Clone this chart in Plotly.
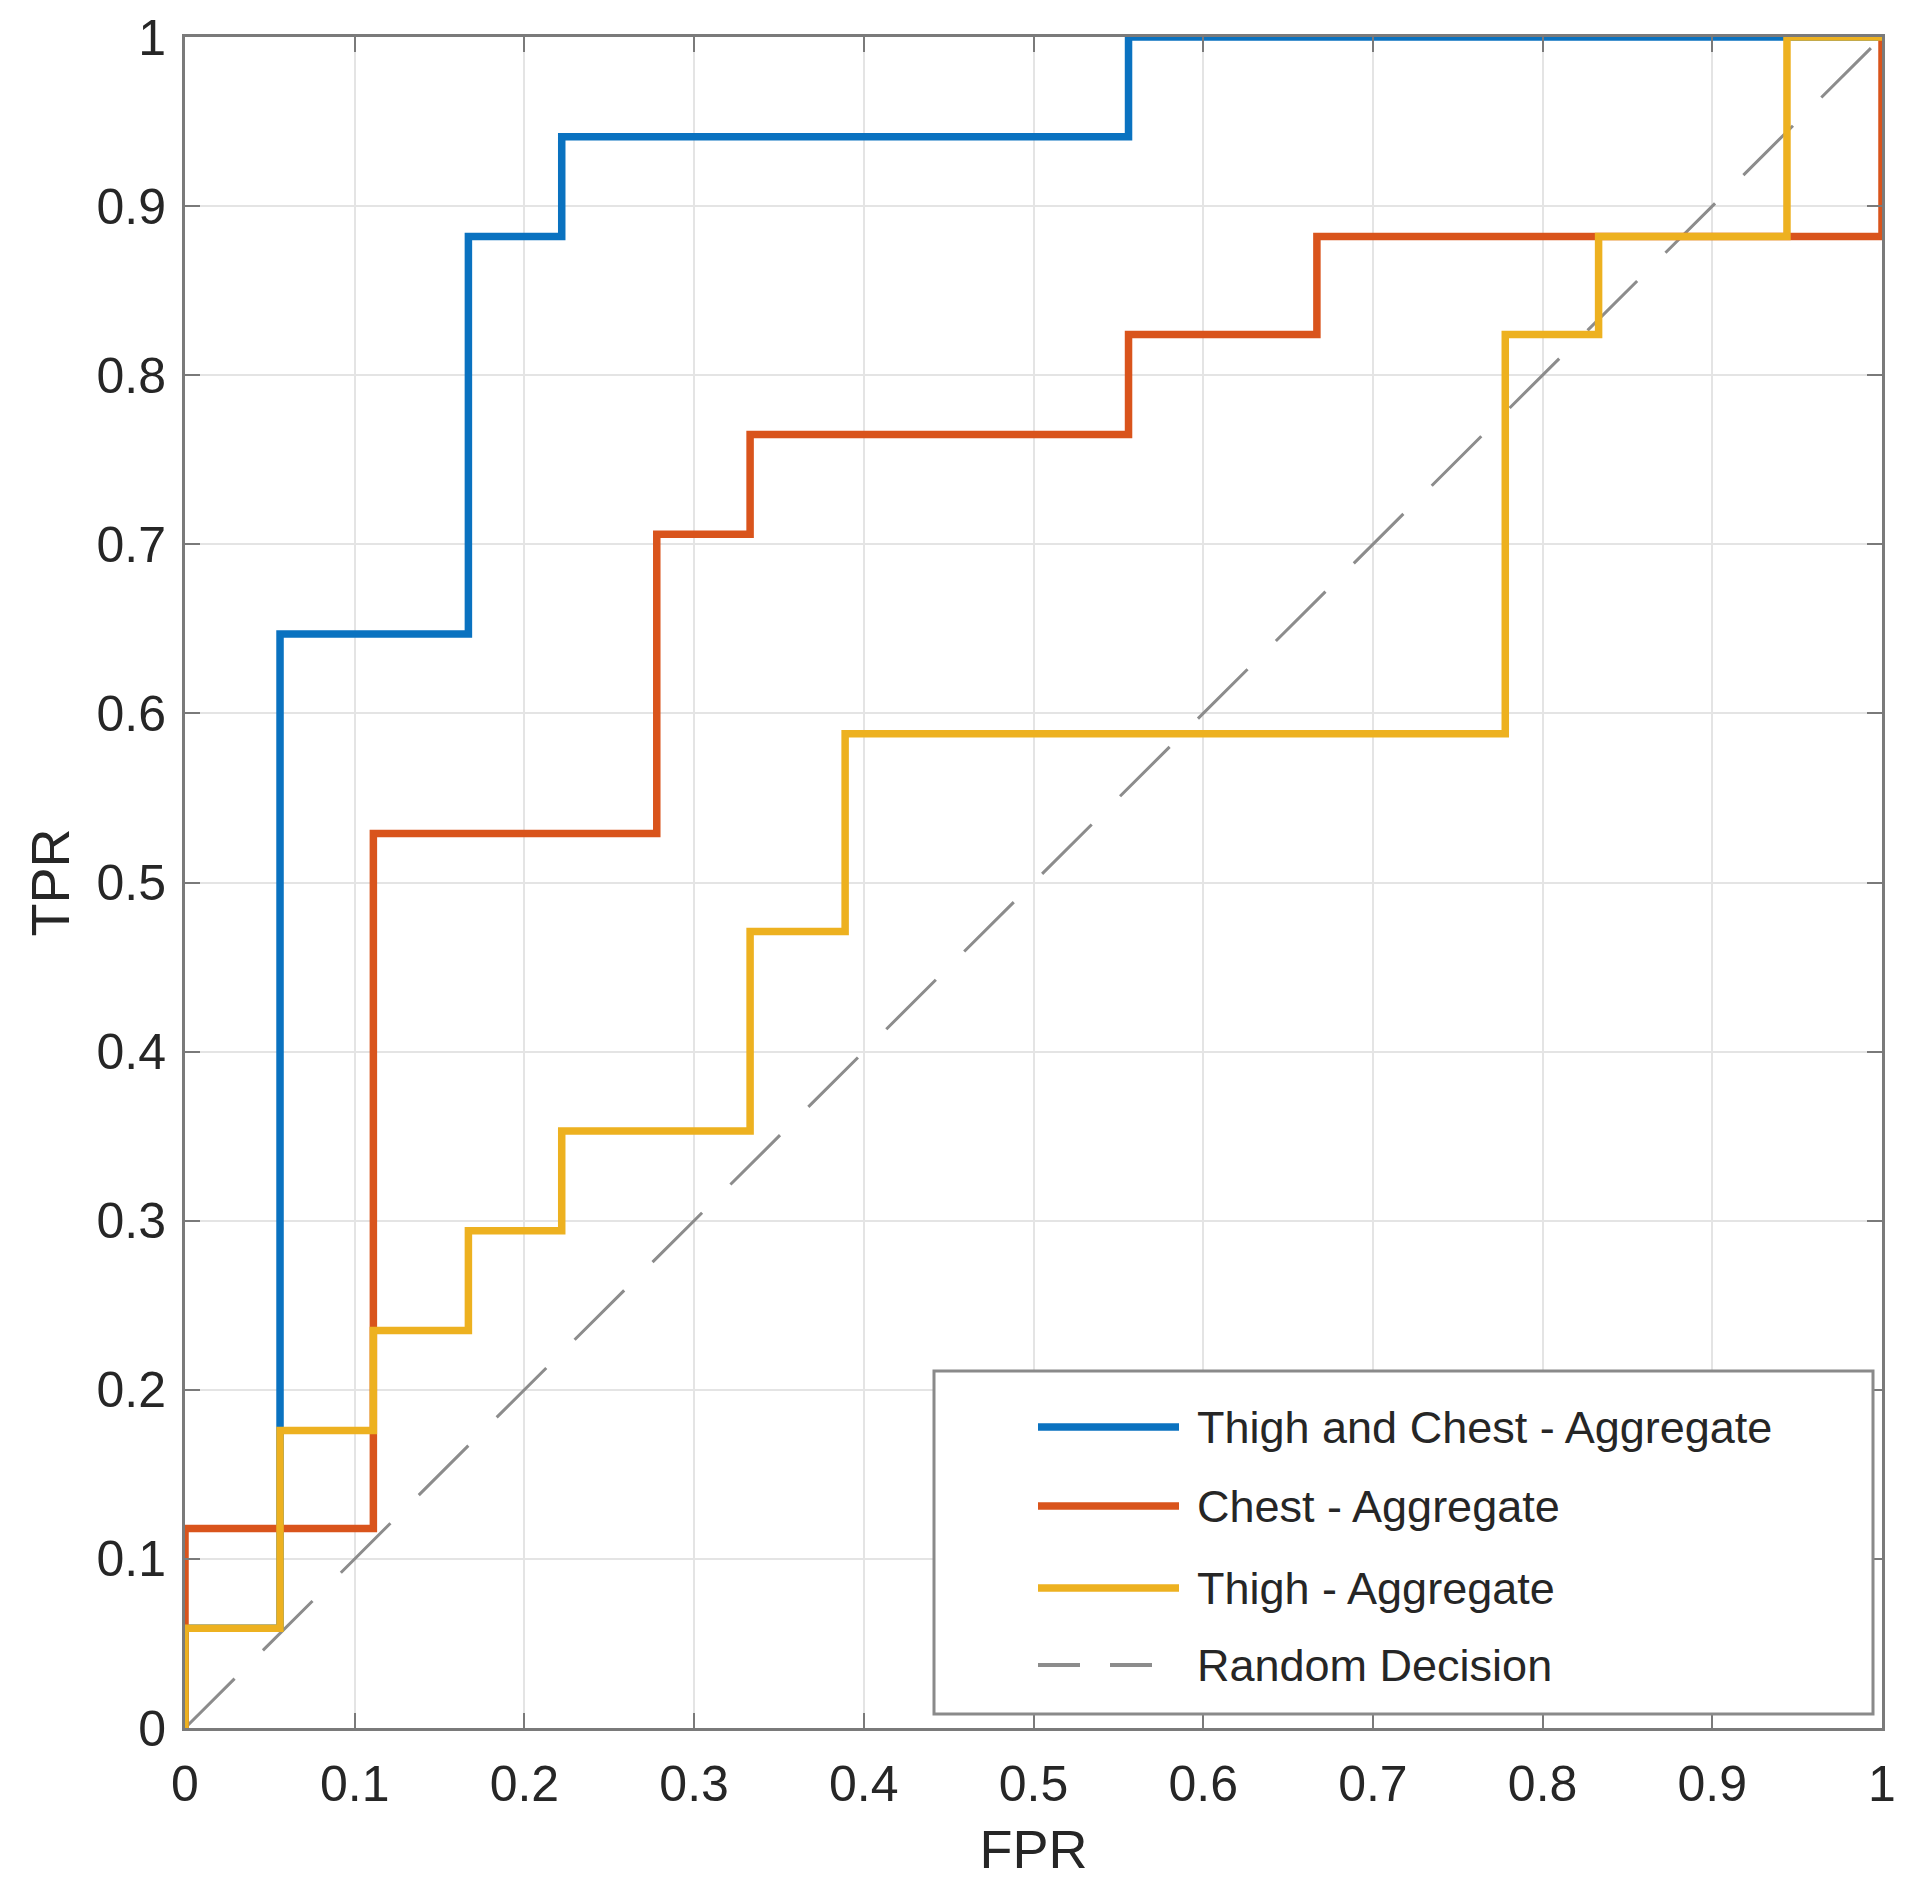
import plotly.graph_objects as go

# ---- data ----
blue_fpr = [0.0, 0.0, 0.056, 0.056, 0.167, 0.167, 0.222, 0.222, 0.556, 0.556, 1.0]
blue_tpr = [0.0, 0.059, 0.059, 0.647, 0.647, 0.882, 0.882, 0.941, 0.941, 1.0, 1.0]

red_fpr = [0.0, 0.0, 0.111, 0.111, 0.278, 0.278, 0.333, 0.333, 0.556, 0.556, 0.667, 0.667, 1.0, 1.0]
red_tpr = [0.0, 0.118, 0.118, 0.529, 0.529, 0.706, 0.706, 0.765, 0.765, 0.824, 0.824, 0.882, 0.882, 1.0]

yel_fpr = [0.0, 0.0, 0.056, 0.056, 0.111, 0.111, 0.167, 0.167, 0.222, 0.222, 0.333, 0.333,
           0.389, 0.389, 0.778, 0.778, 0.833, 0.833, 0.944, 0.944, 1.0]
yel_tpr = [0.0, 0.059, 0.059, 0.176, 0.176, 0.235, 0.235, 0.294, 0.294, 0.353, 0.353, 0.471,
           0.471, 0.588, 0.588, 0.824, 0.824, 0.882, 0.882, 1.0, 1.0]

rand_fpr = [0.0, 1.0]
rand_tpr = [0.0, 1.0]

series_names = ["Thigh and Chest - Aggregate", "Chest - Aggregate", "Thigh - Aggregate", "Random Decision"]
tick_vals = [0, 0.1, 0.2, 0.3, 0.4, 0.5, 0.6, 0.7, 0.8, 0.9, 1]
tick_text = ["0", "0.1", "0.2", "0.3", "0.4", "0.5", "0.6", "0.7", "0.8", "0.9", "1"]

C_BLUE = "#0a72c0"
C_RED = "#d9541c"
C_YEL = "#edb120"
C_GRAY = "#8c8c8c"
FONT = "Liberation Sans, Arial, sans-serif"
TXT = "#262626"
LW = 7.5

fig = go.Figure()
fig.add_trace(go.Scatter(x=rand_fpr, y=rand_tpr, mode="lines", name=series_names[3],
                         line=dict(color=C_GRAY, width=3, dash="70px,40px")))
fig.add_trace(go.Scatter(x=blue_fpr, y=blue_tpr, mode="lines", name=series_names[0],
                         line=dict(color=C_BLUE, width=LW)))
fig.add_trace(go.Scatter(x=red_fpr, y=red_tpr, mode="lines", name=series_names[1],
                         line=dict(color=C_RED, width=LW)))
fig.add_trace(go.Scatter(x=yel_fpr, y=yel_tpr, mode="lines", name=series_names[2],
                         line=dict(color=C_YEL, width=LW)))

OFF = 8  # page body margin
W, H = 1920 - 2 * OFF, 1887 - 2 * OFF
# target plot area in page pixels: x 183..1882, y 37..1728
L = 185 - OFF
T = 37 - OFF
R = (OFF + W) - 1882
B = (OFF + H) - 1728
PW, PH = W - L - R, H - T - B
X0 = L + OFF
Y1 = OFF + T + PH

def px(xp):
    return (xp - X0) / PW

def py(yp):
    return (Y1 - yp) / PH

shapes = []
annotations = []
# legend box
shapes.append(dict(type="rect", xref="paper", yref="paper",
                   x0=px(934), x1=px(1873), y0=py(1714), y1=py(1371),
                   line=dict(color="#8a8a8a", width=3), fillcolor="white", layer="above"))
leg_rows = [1427, 1506, 1588, 1665]
leg_cols = [C_BLUE, C_RED, C_YEL, C_GRAY]
for i, (yy, col) in enumerate(zip(leg_rows, leg_cols)):
    if i < 3:
        shapes.append(dict(type="line", xref="paper", yref="paper",
                           x0=px(1038), x1=px(1179), y0=py(yy), y1=py(yy),
                           line=dict(color=col, width=LW), layer="above"))
    else:
        shapes.append(dict(type="line", xref="paper", yref="paper",
                           x0=px(1038), x1=px(1179), y0=py(yy), y1=py(yy),
                           line=dict(color=col, width=4, dash="42px,30px"), layer="above"))
    annotations.append(dict(xref="paper", yref="paper", x=px(1195), y=py(yy),
                            xanchor="left", yanchor="middle", showarrow=False,
                            text=series_names[i], font=dict(family=FONT, size=45, color=TXT)))

axis_common = dict(range=[0, 1], tickvals=tick_vals, ticktext=tick_text,
                   showgrid=True, gridcolor="#e4e4e4", gridwidth=2,
                   showline=True, linecolor="#7a7a7a", linewidth=3, mirror="ticks",
                   ticks="inside", ticklen=15, tickwidth=2, tickcolor="#7a7a7a",
                   zeroline=False, tickfont=dict(family=FONT, size=50, color=TXT),
                   fixedrange=True, automargin=False)

fig.update_layout(
    template="none",
    width=W, height=H,
    margin=dict(l=L, r=R, t=T, b=B),
    paper_bgcolor="white", plot_bgcolor="white",
    showlegend=False,
    shapes=shapes, annotations=annotations,
    xaxis=dict(**axis_common, ticklabelstandoff=10,
               title=dict(text="FPR", font=dict(family=FONT, size=54, color=TXT), standoff=22)),
    yaxis=dict(**axis_common, ticklabelstandoff=6,
               title=dict(text="TPR", font=dict(family=FONT, size=54, color=TXT), standoff=10)),
)

fig.write_html("out.html")
